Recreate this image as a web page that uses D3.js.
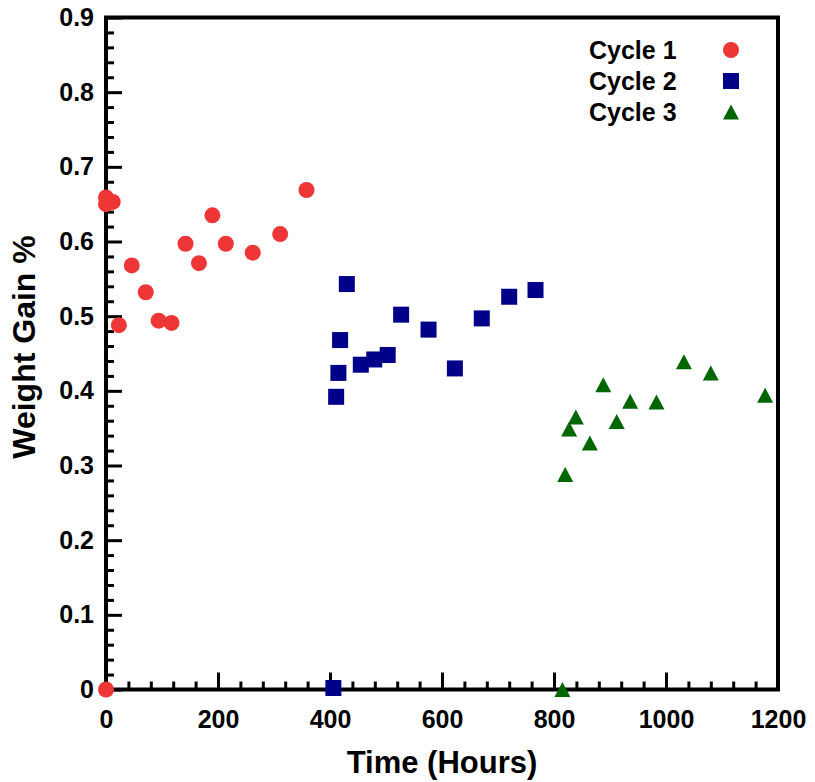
<!DOCTYPE html>
<html>
<head>
<meta charset="utf-8">
<script src="https://cdn.jsdelivr.net/npm/d3@7"></script>
<style>
	body { margin: 0; background: white; }
	svg text { font-family: 'Liberation Sans', Arial, sans-serif; font-weight: bold; fill: black; }
</style>
</head>
<body>
<div id="wrapper"></div>
<script>
// Data
const cycle1Hours = [0, 0, 0, 12, 23, 46, 71, 94, 117, 142, 166, 190, 214, 262, 311, 358]
const cycle1Gain  = [0, 0.659, 0.650, 0.653, 0.488, 0.568, 0.532, 0.494, 0.491, 0.597, 0.571, 0.635, 0.597, 0.585, 0.610, 0.669]

const cycle2Hours = [406, 411, 415, 418, 430, 455, 479, 503, 527, 576, 623, 671, 720, 767]
const cycle2Gain  = [0.002, 0.392, 0.424, 0.468, 0.543, 0.435, 0.442, 0.448, 0.502, 0.482, 0.430, 0.497, 0.526, 0.535]

const cycle3Hours = [815, 820, 827, 839, 864, 888, 912, 936, 983, 1032, 1080, 1177]
const cycle3Gain  = [0, 0.288, 0.349, 0.365, 0.330, 0.408, 0.359, 0.386, 0.385, 0.439, 0.424, 0.394]

const seriesNames = ['Cycle 1', 'Cycle 2', 'Cycle 3']
const seriesColors = ['#ee3636', '#000088', '#006600']

const xTicks = [0, 200, 400, 600, 800, 1000, 1200]
const xTickLabels = ['0', '200', '400', '600', '800', '1000', '1200']
const yTicks = [0, 0.1, 0.2, 0.3, 0.4, 0.5, 0.6, 0.7, 0.8, 0.9]
const yTickLabels = ['0', '0.1', '0.2', '0.3', '0.4', '0.5', '0.6', '0.7', '0.8', '0.9']

function drawPlot() {
	// Chart Dimensions
	let dimensions = {
		width: 815,
		height: 782,
		margin: {
			top: 17.5,
			bottom: 92.5,
			right: 37,
			left: 106
		}
	}
	dimensions.boundedWidth = dimensions.width
		- dimensions.margin.left
		- dimensions.margin.right
	dimensions.boundedHeight = dimensions.height
		- dimensions.margin.top
		- dimensions.margin.bottom

	// Draw canvas
	const wrapper = d3.select('#wrapper')
		.append('svg')
			.attr('width', dimensions.width)
			.attr('height', dimensions.height)

	const bounds = wrapper.append('g')
		.attr('transform', `translate(${dimensions.margin.left}, ${dimensions.margin.top})`)

	// Scales
	const xScale = d3.scaleLinear()
		.domain([0, 1200])
		.range([0, dimensions.boundedWidth])

	const yScale = d3.scaleLinear()
		.domain([0, 0.9])
		.range([dimensions.boundedHeight, 0])

	// Minor ticks
	const xMinor = d3.range(0, 1201, 40).filter(d => d % 200 != 0)
	const yMinor = d3.range(0, 46).map(i => i * 0.02).filter((d, i) => i % 5 != 0)

	bounds.append('g')
		.attr('transform', `translate(0, ${dimensions.boundedHeight})`)
		.call(d3.axisBottom(xScale).tickValues(xMinor).tickSize(-8).tickFormat(''))
	bounds.append('g')
		.call(d3.axisLeft(yScale).tickValues(yMinor).tickSize(-8).tickFormat(''))

	// Major ticks
	const xAxis = bounds.append('g')
		.attr('transform', `translate(0, ${dimensions.boundedHeight})`)
		.call(d3.axisBottom(xScale)
			.tickValues(xTicks)
			.tickSize(-17)
			.tickPadding(21)
			.tickFormat((d, i) => xTickLabels[i]))
	const yAxis = bounds.append('g')
		.call(d3.axisLeft(yScale)
			.tickValues(yTicks)
			.tickSize(-16)
			.tickPadding(12)
			.tickFormat((d, i) => yTickLabels[i]))

	bounds.selectAll('.domain').remove()
	bounds.selectAll('.tick line')
		.attr('stroke', 'black')
		.attr('stroke-width', 3)
	bounds.selectAll('.tick text')
		.attr('font-size', 25)
		.attr('fill', 'black')
	xAxis.selectAll('.tick text').attr('dy', 0).attr('y', 38.5)

	// Frame
	bounds.append('rect')
		.attr('width', dimensions.boundedWidth)
		.attr('height', dimensions.boundedHeight)
		.attr('fill', 'none')
		.attr('stroke', 'black')
		.attr('stroke-width', 4)

	// Axis labels
	wrapper.append('text')
		.attr('x', dimensions.margin.left + dimensions.boundedWidth / 2)
		.attr('y', 773)
		.attr('text-anchor', 'middle')
		.attr('font-size', 31)
		.text('Time (Hours)')

	wrapper.append('text')
		.attr('transform', 'translate(35, 347) rotate(-90)')
		.attr('text-anchor', 'middle')
		.attr('font-size', 32)
		.text('Weight Gain %')

	// Markers
	const drawCircle = (g, x, y, color) => g.append('circle')
		.attr('cx', x).attr('cy', y).attr('r', 8).attr('fill', color)
	const drawSquare = (g, x, y, color) => g.append('rect')
		.attr('x', x - 8).attr('y', y - 8).attr('width', 16).attr('height', 16).attr('fill', color)
	const drawTriangle = (g, x, y, color) => g.append('path')
		.attr('d', `M${x},${y - 7.5}L${x + 8},${y + 7.5}L${x - 8},${y + 7.5}Z`)
		.attr('fill', color)
	const markers = [drawCircle, drawSquare, drawTriangle]

	const series = [
		{hours: cycle1Hours, gain: cycle1Gain},
		{hours: cycle2Hours, gain: cycle2Gain},
		{hours: cycle3Hours, gain: cycle3Gain}
	]

	const points = bounds.append('g')
	series.forEach((s, k) => {
		s.hours.forEach((h, i) => {
			markers[k](points, xScale(h), yScale(s.gain[i]), seriesColors[k])
		})
	})

	// Legend
	const legend = wrapper.append('g')
	seriesNames.forEach((name, k) => {
		const cy = 50 + k * 31
		legend.append('text')
			.attr('x', 589)
			.attr('y', cy + 9)
			.attr('font-size', 25)
			.text(name)
		markers[k](legend, 731, cy, seriesColors[k])
	})
}
drawPlot()
</script>
</body>
</html>
